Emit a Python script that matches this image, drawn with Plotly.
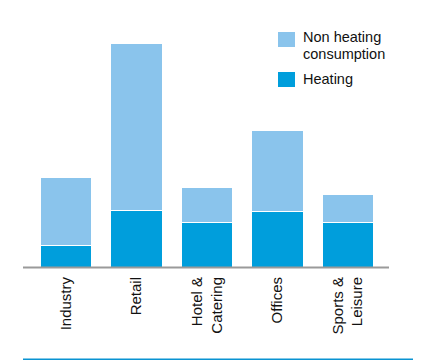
import plotly.graph_objects as go

categories = ["Industry", "Retail", "Hotel &<br>Catering", "Offices", "Sports &<br>Leisure"]
heating = [22, 57, 45, 56, 45]
non_heating = [68, 167, 35, 81, 28]
legend_labels = ["Non heating", "consumption", "Heating"]

LIGHT = "#8AC4EC"
DARK = "#009EDC"
FONT = "Liberation Sans, Arial, sans-serif"

# page is rendered with an 8px body margin; compensate
OFF = 8
PAGE_W, PAGE_H = 436, 363
W, H = PAGE_W - OFF, PAGE_H - OFF
PLOT_L, PLOT_R, PLOT_T, PLOT_B = 31, 383, 20, 267  # page coords
ML, MT = PLOT_L - OFF, PLOT_T - OFF
MR, MB = PAGE_W - PLOT_R, PAGE_H - PLOT_B
PW = PLOT_R - PLOT_L
PH = PLOT_B - PLOT_T

def px_x(x):
    return (x - PLOT_L) / PW

def px_y(y):
    return (PLOT_B - y) / PH

fig = go.Figure()
fig.add_trace(go.Bar(x=categories, y=heating, name="Heating",
                     marker=dict(color=DARK, line=dict(color="white", width=1))))
fig.add_trace(go.Bar(x=categories, y=non_heating, name="Non heating consumption",
                     marker=dict(color=LIGHT, line=dict(color="white", width=1))))

shapes = [
    dict(type="line", xref="paper", yref="paper", x0=px_x(23), x1=px_x(389),
         y0=px_y(267.6), y1=px_y(267.6), line=dict(color="#9A9A9A", width=2)),
    dict(type="line", xref="paper", yref="paper", x0=px_x(23), x1=px_x(413),
         y0=px_y(359.2), y1=px_y(359.2), line=dict(color="#0A93D2", width=1.6)),
    dict(type="rect", xref="paper", yref="paper", x0=px_x(278), x1=px_x(295),
         y0=px_y(47), y1=px_y(32), fillcolor=LIGHT, line=dict(width=0)),
    dict(type="rect", xref="paper", yref="paper", x0=px_x(278), x1=px_x(295),
         y0=px_y(87), y1=px_y(72), fillcolor=DARK, line=dict(width=0)),
]

ann_y = [36.8, 54.3, 79]
annotations = [
    dict(xref="paper", yref="paper", x=px_x(301), y=px_y(yy), text=t,
         xanchor="left", yanchor="middle", showarrow=False,
         font=dict(family=FONT, size=14.5, color="#111111"))
    for t, yy in zip(legend_labels, ann_y)
]

fig.update_layout(
    width=W, height=H,
    margin=dict(l=ML, r=MR, t=MT, b=MB, autoexpand=False),
    barmode="stack", bargap=0.27,
    showlegend=False,
    paper_bgcolor="white", plot_bgcolor="white",
    shapes=shapes, annotations=annotations,
    font=dict(family=FONT, size=15, color="#111111"),
    xaxis=dict(tickangle=-90, showline=False, showgrid=False, zeroline=False,
               ticks="", ticklabelstandoff=6, automargin=False,
               tickfont=dict(family=FONT, size=15, color="#111111")),
    yaxis=dict(range=[0, PH], visible=False, showgrid=False, zeroline=False),
)

fig.write_html("out.html")
